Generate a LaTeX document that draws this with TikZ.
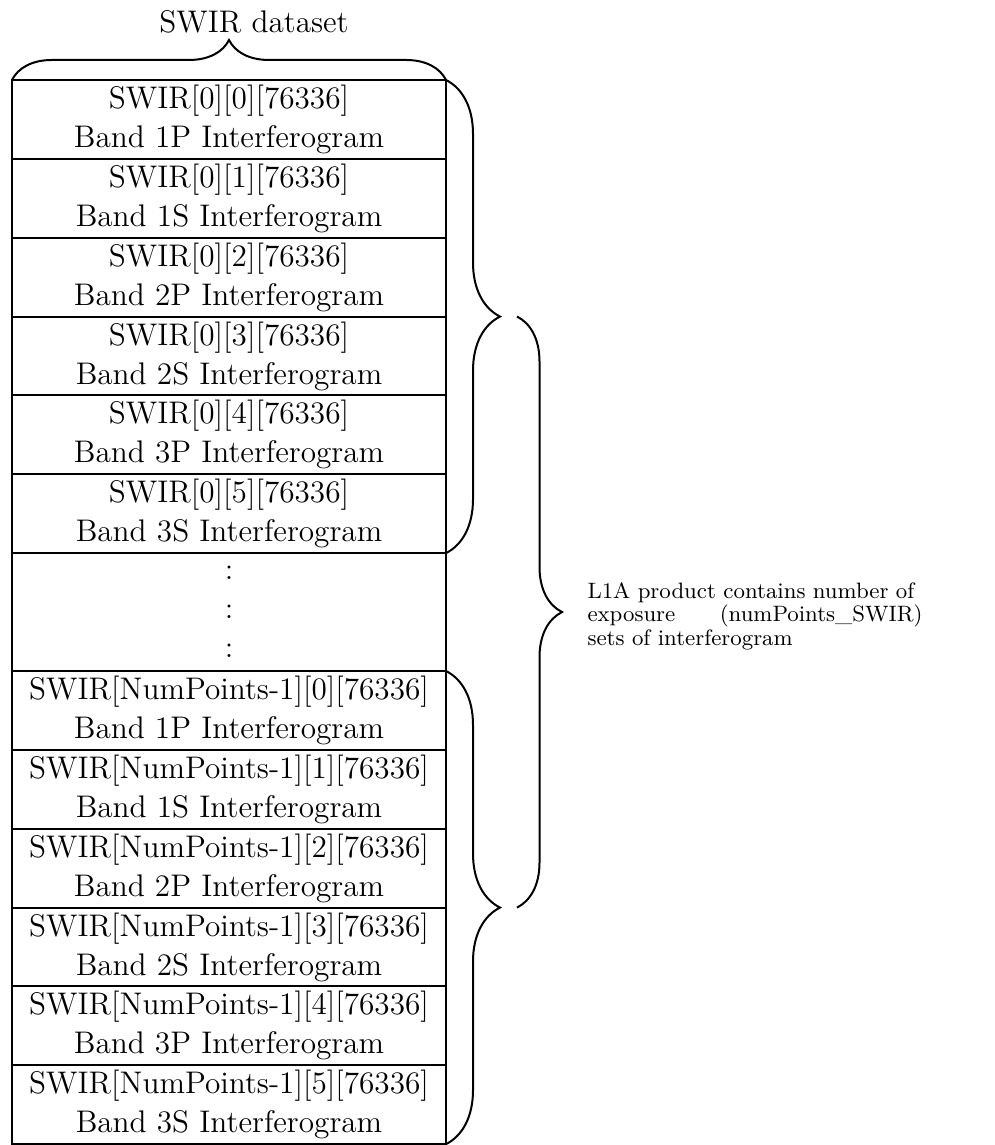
\documentclass[tikz,border=0pt]{standalone}
\usepackage{amsmath}
\usetikzlibrary{decorations.pathreplacing,calc}

\tikzset{
  bandbox/.style={draw, thick, inner sep=0pt, outer sep=0pt,
    minimum width=173.6pt, minimum height=31.53pt, align=center,
    font=\fontsize{12.5}{15.6}\selectfont},
  gapbox/.style={bandbox, minimum height=47.2pt},
  curly/.style={decorate, decoration={brace, amplitude=#1}},
}

\begin{document}
\begin{tikzpicture}[x=0.4pt,y=-0.4pt]
\useasboundingbox (0,0) rectangle (994,1145);

% first exposure
\node[bandbox] (r0) at (229,119.4) {SWIR[0][0][76336]\\Band 1P Interferogram};
\node[bandbox] (r1) at (229,198.3) {SWIR[0][1][76336]\\Band 1S Interferogram};
\node[bandbox] (r2) at (229,277.1) {SWIR[0][2][76336]\\Band 2P Interferogram};
\node[bandbox] (r3) at (229,356.0) {SWIR[0][3][76336]\\Band 2S Interferogram};
\node[bandbox] (r4) at (229,434.8) {SWIR[0][4][76336]\\Band 3P Interferogram};
\node[bandbox] (r5) at (229,513.7) {SWIR[0][5][76336]\\Band 3S Interferogram};

\node[gapbox] (gap) at (229,612) {:\\:\\:};

% last exposure
\node[bandbox] (n0) at (229,710.4) {SWIR[NumPoints-1][0][76336]\\Band 1P Interferogram};
\node[bandbox] (n1) at (229,789.3) {SWIR[NumPoints-1][1][76336]\\Band 1S Interferogram};
\node[bandbox] (n2) at (229,868.1) {SWIR[NumPoints-1][2][76336]\\Band 2P Interferogram};
\node[bandbox] (n3) at (229,947.0) {SWIR[NumPoints-1][3][76336]\\Band 2S Interferogram};
\node[bandbox] (n4) at (229,1025.8) {SWIR[NumPoints-1][4][76336]\\Band 3P Interferogram};
\node[bandbox] (n5) at (229,1104.7) {SWIR[NumPoints-1][5][76336]\\Band 3S Interferogram};

\node[font=\fontsize{12.5}{15.6}\selectfont] (title) at (254,22) {SWIR dataset};
\node[anchor=west, inner sep=0pt, text width=134pt, align=left,
  font=\fontsize{8.9}{7.8}\selectfont] (note) at (587,616)
  {L1A product contains number of\\exposure\hfill(numPoints\_SWIR)\\sets of interferogram};

\path[draw,thick,curly=16pt] (r0.north west) -- (r0.north east);
\path[draw,thick,curly=21.6pt] (r0.north east) -- (r5.south east);
\path[draw,thick,curly=21.6pt] (n0.north east) -- (n5.south east);
\path[draw,thick,curly=18pt] ($(r2.south east)+(71,0)$) -- ($(n3.north east)+(71,0)$);
\end{tikzpicture}
\end{document}
